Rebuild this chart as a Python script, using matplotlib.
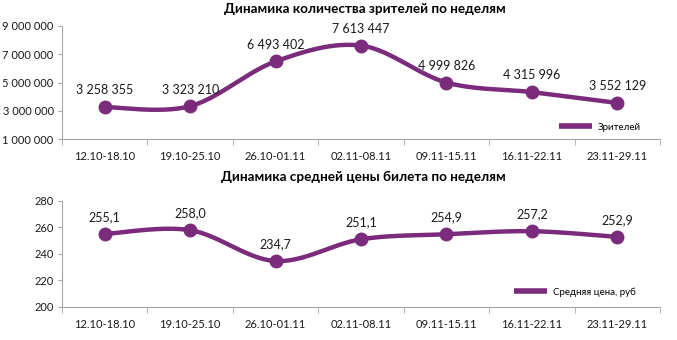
import numpy as np
import matplotlib
matplotlib.use("Agg")
import matplotlib.pyplot as plt
from matplotlib.lines import Line2D

plt.rcParams['font.family'] = ['Lato', 'DejaVu Sans']

weeks = ["12.10-18.10", "19.10-25.10", "26.10-01.11", "02.11-08.11",
         "09.11-15.11", "16.11-22.11", "23.11-29.11"]
viewers = [3258355, 3323210, 6493402, 7613447, 4999826, 4315996, 3552129]
avg_price = [255.1, 258.0, 234.7, 251.1, 254.9, 257.2, 252.9]

viewer_ticks = [1000000, 3000000, 5000000, 7000000, 9000000]
price_ticks = [200, 220, 240, 260, 280]

PURPLE = "#7B2B7C"
AXIS = "#A6A6A6"


def smooth_curve(x, y, steps=30):
    """Catmull-Rom style smoothing through the data points."""
    x = np.asarray(x, float)
    y = np.asarray(y, float)
    px = np.concatenate([[x[0]], x, [x[-1]]])
    py = np.concatenate([[y[0]], y, [y[-1]]])
    xs, ys = [], []
    for i in range(1, len(px) - 2):
        p0, p1, p2, p3 = (np.array([px[j], py[j]]) for j in range(i - 1, i + 3))
        c1 = p1 + (p2 - p0) / 6.0
        c2 = p2 - (p3 - p1) / 6.0
        t = np.linspace(0, 1, steps)[:, None]
        pts = ((1 - t) ** 3) * p1 + 3 * ((1 - t) ** 2) * t * c1 + 3 * (1 - t) * t ** 2 * c2 + t ** 3 * p2
        xs.extend(pts[:, 0])
        ys.extend(pts[:, 1])
    return np.array(xs), np.array(ys)


def fmt_space(v):
    return f"{v:,}".replace(",", " ")


def draw_panel(ax, values, ticks, ylim, labels, legend_label, legend_pos, tick_fmt):
    x = np.arange(len(values))
    sx, sy = smooth_curve(x, values)
    ax.plot(sx, sy, color=PURPLE, lw=3.2, solid_capstyle='round', zorder=2)
    ax.plot(x, values, 'o', color=PURPLE, ms=9, zorder=3)
    for xi, v, lab in zip(x, values, labels):
        ax.annotate(lab, (xi, v), xytext=(0, 12), textcoords='offset points',
                    ha='center', va='center', fontsize=9, color='#1a1a1a')
    ax.set_xlim(-0.5, len(values) - 0.5)
    ax.set_ylim(*ylim)
    ax.set_yticks(ticks)
    ax.set_yticklabels([tick_fmt(t) for t in ticks])
    ax.set_xticks(x)
    ax.set_xticklabels(weeks)
    ax.set_xticks(np.arange(len(values) + 1) - 0.5, minor=True)
    ax.tick_params(axis='x', which='major', length=0, pad=9, labelsize=8, labelcolor='#1a1a1a')
    ax.tick_params(axis='x', which='minor', length=4, color=AXIS, direction='out')
    ax.tick_params(axis='y', length=3, color=AXIS, labelsize=8, labelcolor='#1a1a1a', pad=3)
    for s in ('top', 'right'):
        ax.spines[s].set_visible(False)
    for s in ('left', 'bottom'):
        ax.spines[s].set_color(AXIS)
        ax.spines[s].set_linewidth(0.8)
    handle = Line2D([], [], color=PURPLE, lw=4, solid_capstyle='butt')
    ax.legend([handle], [legend_label], loc='center left', frameon=False,
              fontsize=7, handlelength=3.4, handletextpad=0.6,
              bbox_to_anchor=legend_pos, borderaxespad=0, borderpad=0)


fig = plt.figure(figsize=(6.77, 3.40), dpi=100)

ax1 = fig.add_axes([62 / 677, 1 - 139 / 340, (660 - 62) / 677, (139 - 26) / 340])
draw_panel(ax1, viewers, viewer_ticks, (1000000, 9000000),
           [fmt_space(v) for v in viewers], "Зрителей", (0.831, 0.106), fmt_space)
fig.text(365 / 677, 1 - 9 / 340, "Динамика количества зрителей по неделям",
         ha='center', va='center', fontsize=9.7, fontweight='bold')

ax2 = fig.add_axes([62 / 677, 1 - 307 / 340, (660 - 62) / 677, (307 - 201) / 340])
draw_panel(ax2, avg_price, price_ticks, (200, 280),
           [f"{v:.1f}".replace(".", ",") for v in avg_price],
           "Средняя цена, руб", (0.756, 0.142), lambda t: str(t))
fig.text(363 / 677, 1 - 177 / 340, "Динамика средней цены билета по неделям",
         ha='center', va='center', fontsize=9.7, fontweight='bold')

fig.savefig("out.png", dpi=100)
